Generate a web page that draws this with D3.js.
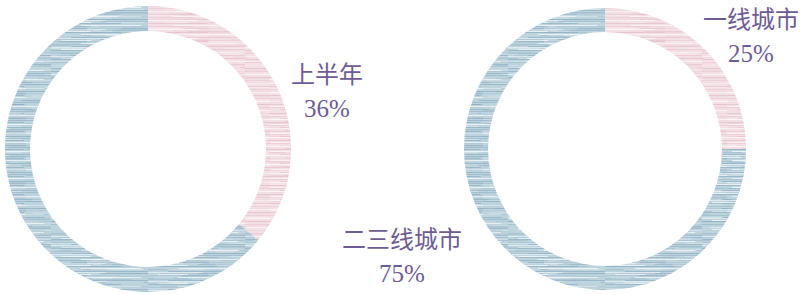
<!DOCTYPE html>
<html>
<head>
<meta charset="utf-8">
<script src="https://cdn.jsdelivr.net/npm/d3@7"></script>
<style>
  html, body { margin: 0; padding: 0; background: #fff; }
  svg { display: block; }
</style>
</head>
<body>
<svg id="chart" width="805" height="295"></svg>
<script>
'use strict';

// data
const leftCategories = ['上半年', '下半年'];
const leftValues = [36, 64];
const rightCategories = ['一线城市', '二三线城市'];
const rightValues = [25, 75];

const svg = d3.select('#chart');
const textColour = '#6e5c95';

// streak textures: base colour + a few rows of lighter / darker lines
const textures = {
	blue: {base: '#bdd3de', rows: [
		{y: 0, h: 1, x: 0, w: 70, c: '#86a9bc', o: 0.6},
		{y: 2, h: 1, x: 30, w: 60, c: '#eef4f7', o: 0.9},
		{y: 3, h: 1, x: 0, w: 40, c: '#a3c0ce', o: 0.8},
		{y: 5, h: 1, x: 20, w: 77, c: '#7299ae', o: 0.45},
		{y: 6, h: 1, x: 0, w: 55, c: '#e2ecf1', o: 0.9},
		{y: 7, h: 1, x: 50, w: 47, c: '#97b6c6', o: 0.7},
		{y: 8, h: 1, x: 10, w: 30, c: '#f4f8fa', o: 0.8}
	]},
	pink: {base: '#f3e0e4', rows: [
		{y: 0, h: 1, x: 0, w: 60, c: '#e5bec8', o: 0.7},
		{y: 2, h: 1, x: 25, w: 72, c: '#fbf3f5', o: 0.9},
		{y: 3, h: 1, x: 0, w: 45, c: '#ebccd3', o: 0.8},
		{y: 5, h: 1, x: 35, w: 62, c: '#dcaebb', o: 0.4},
		{y: 6, h: 1, x: 0, w: 50, c: '#fcf6f7', o: 0.9},
		{y: 8, h: 1, x: 40, w: 57, c: '#e8c4cd', o: 0.7}
	]}
};

const defs = svg.append('defs');
Object.entries(textures).forEach(([name, t]) => {
	// two patterns with different periods so the streaks don't look tiled
	[[97, 9, 'a'], [61, 13, 'b']].forEach(([pw, ph, k]) => {
		let p = defs.append('pattern')
			.attr('id', 'tex-' + name + '-' + k)
			.attr('patternUnits', 'userSpaceOnUse')
			.attr('width', pw)
			.attr('height', ph);
		t.rows.forEach(r => {
			p.append('rect')
				.attr('x', r.x * pw / 97)
				.attr('y', r.y * ph / 9)
				.attr('width', r.w * pw / 97)
				.attr('height', r.h)
				.attr('fill', r.c)
				.attr('opacity', k === 'a' ? r.o : r.o * 0.5);
		});
	});
});

const pie = d3.pie().sort(null).value(d => d.value);

function donut(cx, cy, outer, inner, cats, values, colours) {
	let data = cats.map((c, i) => ({name: c, value: values[i], tex: colours[i]}));
	let arc = d3.arc().innerRadius(inner).outerRadius(outer);
	let g = svg.append('g').attr('transform', `translate(${cx},${cy})`);
	let slices = g.selectAll('g.slice').data(pie(data)).enter().append('g').attr('class', 'slice');
	slices.append('path').attr('d', arc).attr('fill', d => textures[d.data.tex].base);
	slices.append('path').attr('d', arc).attr('fill', d => `url(#tex-${d.data.tex}-a)`);
	slices.append('path').attr('d', arc).attr('fill', d => `url(#tex-${d.data.tex}-b)`);
	return g;
}

donut(148, 149, 143, 118, leftCategories, leftValues, ['pink', 'blue']);
donut(605, 149, 141, 117, rightCategories, rightValues, ['pink', 'blue']);

// labels: name on first line, percentage under it
function label(x, y, name, value) {
	let t = svg.append('g').attr('transform', `translate(${x},${y})`);
	t.append('text')
		.attr('text-anchor', 'middle')
		.attr('y', 0)
		.attr('fill', textColour)
		.style('font-family', '"Noto Sans CJK SC", sans-serif')
		.style('font-size', '24px')
		.text(name);
	t.append('text')
		.attr('text-anchor', 'middle')
		.attr('y', 34)
		.attr('fill', textColour)
		.style('font-family', '"Liberation Serif", serif')
		.style('font-size', '25px')
		.text(value + '%');
}

label(327, 83, leftCategories[0], leftValues[0]);
label(751, 28, rightCategories[0], rightValues[0]);
label(402, 248, rightCategories[1], rightValues[1]);
</script>
</body>
</html>
